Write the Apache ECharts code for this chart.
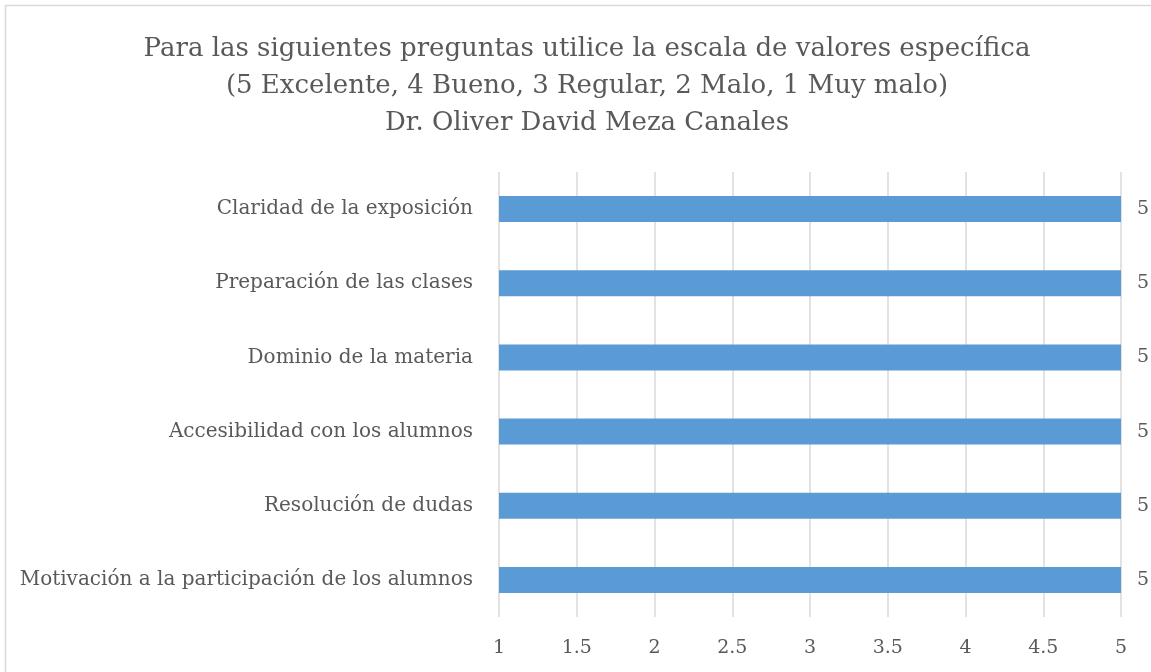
<!DOCTYPE html>
<html>
<head>
<meta charset="utf-8">
<script src="https://cdn.jsdelivr.net/npm/echarts@6/dist/echarts.min.js"></script>
<style>
  html, body { margin: 0; padding: 0; background: #fff; }
  #chart { width: 1151px; height: 672px; }
</style>
</head>
<body>
<div id="chart"></div>
<script>
// questions, bottom to top as they appear in the chart
const categories = [
  'Motivación a la participación de los alumnos',
  'Resolución de dudas',
  'Accesibilidad con los alumnos',
  'Dominio de la materia',
  'Preparación de las clases',
  'Claridad de la exposición'
];
const scores = [5, 5, 5, 5, 5, 5];
const xTicks = [1, 1.5, 2, 2.5, 3, 3.5, 4, 4.5, 5];

const titleLines = [
  'Para las siguientes preguntas utilice la escala de valores específica',
  '(5 Excelente, 4 Bueno, 3 Regular, 2 Malo, 1 Muy malo)',
  'Dr. Oliver David Meza Canales'
];

const FONT = 'DejaVu Serif';
const chart = echarts.init(document.getElementById('chart'), null, { renderer: 'canvas' });

chart.setOption({
  backgroundColor: '#ffffff',
  animation: false,
  textStyle: { fontFamily: FONT, color: '#595959' },
  graphic: [{
    type: 'rect',
    shape: { x: 5.5, y: 5.5, width: 1200, height: 700 },
    style: { fill: 'none', stroke: '#d9d9d9', lineWidth: 1.5 },
    silent: true
  }],
  title: {
    text: titleLines.join('\n'),
    left: 582,
    textAlign: 'center',
    top: 26,
    textStyle: { fontFamily: FONT, fontSize: 26, fontWeight: 'normal', color: '#595959', lineHeight: 37 }
  },
  grid: { left: 499, right: 30, top: 172, bottom: 55, containLabel: false },
  xAxis: {
    type: 'value',
    min: xTicks[0],
    max: xTicks[xTicks.length - 1],
    interval: 0.5,
    axisLine: { show: false },
    axisTick: { show: false },
    splitLine: { show: true, lineStyle: { color: '#d9d9d9', width: 1.5 } },
    axisLabel: { color: '#595959', fontFamily: FONT, fontSize: 19, margin: 22 }
  },
  yAxis: {
    type: 'category',
    data: categories,
    axisLine: { show: false },
    axisTick: { show: false },
    axisLabel: { color: '#595959', fontFamily: FONT, fontSize: 20, margin: 26 }
  },
  series: [{
    type: 'bar',
    data: scores,
    barWidth: 26,
    itemStyle: { color: '#5b9bd5' },
    label: { show: true, position: 'right', distance: 16, color: '#595959', fontFamily: FONT, fontSize: 19 }
  }]
});
</script>
</body>
</html>
